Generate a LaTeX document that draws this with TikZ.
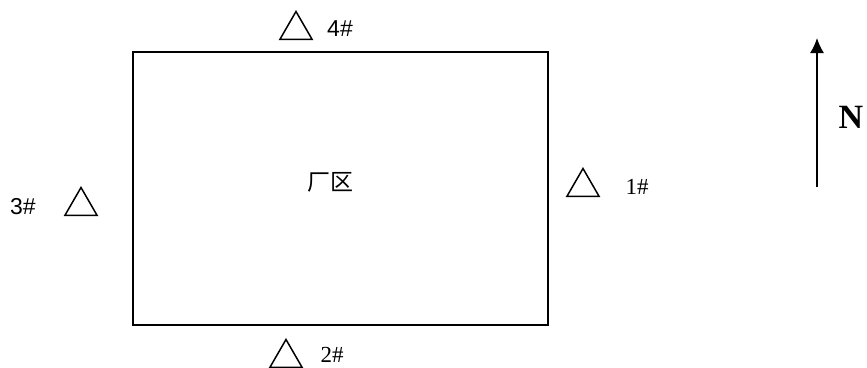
\documentclass[tikz,border=0pt]{standalone}
\usepackage{fontspec}
\setmainfont{Liberation Serif}
\newfontfamily\sansfont{Liberation Sans}
\newfontfamily\cjk{Noto Sans CJK SC}
\usetikzlibrary{shapes.geometric,arrows.meta}

\tikzset{
	site/.style={draw, regular polygon, regular polygon sides=3, minimum size=37pt, inner sep=0pt, line width=1.5pt},
	tag/.style={inner sep=0pt, font=\fontsize{23}{26}\selectfont}
}

\begin{document}
\begin{tikzpicture}[x=1pt,y=-1pt]
	\useasboundingbox (0,0) rectangle (867,367);

	\draw [line width=1.5pt] (133,52) rectangle (548,325);
	\node[tag, font=\cjk\fontsize{23}{26}\selectfont] (area) at (330,182) {厂区};

	\node[site] (s4) at (296,30) {};
	\node[tag, font=\sansfont\fontsize{23}{26}\selectfont] (l4) at (340,29) {4\#};
	\node[site] (s2) at (286,358) {};
	\node[tag] (l2) at (332,355) {2\#};
	\node[site] (s1) at (583,187) {};
	\node[tag] (l1) at (637,187) {1\#};
	\node[site] (s3) at (81,206) {};
	\node[tag, font=\sansfont\fontsize{23}{26}\selectfont] (l3) at (23,207) {3\#};

	\coordinate (tail) at (817,187);
	\coordinate (tip) at (817,38);
	\draw [line width=1.5pt, -{Latex[length=15pt,width=14pt]}] (tail) -- (tip);
	\node[inner sep=0pt, font=\bfseries\fontsize{34}{38}\selectfont] (north) at (851,117) {N};

\end{tikzpicture}
\end{document}
